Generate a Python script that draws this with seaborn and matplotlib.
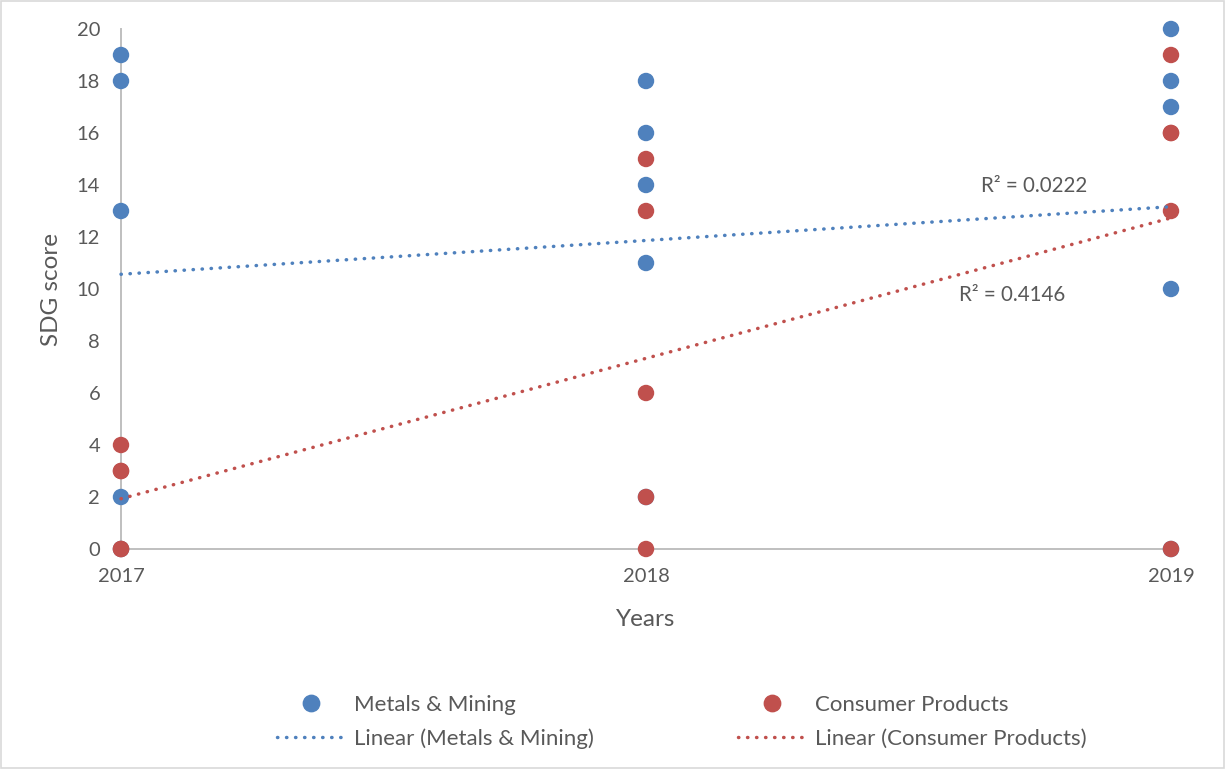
import numpy as np
import pandas as pd
import matplotlib
matplotlib.use("Agg")
import matplotlib.pyplot as plt
from matplotlib.lines import Line2D
from matplotlib.patches import Rectangle
import seaborn as sns

# SDG scores per sector and reporting year
years = [2017, 2018, 2019]
metals_2017 = [19, 18, 13, 2, 0]
metals_2018 = [18, 16, 14, 11, 2]
metals_2019 = [20, 18, 17, 10, 0]
consumer_2017 = [4, 3, 3, 0, 0]
consumer_2018 = [15, 13, 6, 2, 0]
consumer_2019 = [19, 16, 16, 13, 0]
y_ticks = [0, 2, 4, 6, 8, 10, 12, 14, 16, 18, 20]

BLUE = "#4F81BD"
RED = "#C0504D"
TEXT = "#595959"
AXIS = "#BFBFBF"


def long_rows(sector, groups):
    rows = []
    for yr, vals in zip(years, groups):
        rows += [{"Year": yr, "Score": v, "Sector": sector} for v in vals]
    return rows


df = pd.DataFrame(
    long_rows("Metals & Mining", [metals_2017, metals_2018, metals_2019])
    + long_rows("Consumer Products", [consumer_2017, consumer_2018, consumer_2019])
)

sns.set_theme(style="white")
plt.rcParams["font.family"] = ["Lato", "DejaVu Sans"]

fig = plt.figure(figsize=(12.25, 7.69), dpi=100)
ax = fig.add_axes([121 / 1225, 1 - 549 / 769, 1050 / 1225, 520 / 769])

palette = {"Metals & Mining": BLUE, "Consumer Products": RED}
sns.scatterplot(data=df, x="Year", y="Score", hue="Sector", palette=palette,
                s=140, linewidth=0, legend=False, ax=ax, clip_on=False, zorder=3)

dot_style = (0, (0.1, 2.5))
r2_text = {}
for sector, color in palette.items():
    sub = df[df["Sector"] == sector]
    sns.regplot(data=sub, x="Year", y="Score", scatter=False, ci=None, ax=ax,
                line_kws=dict(color=color, lw=2.5, ls=dot_style,
                              dash_capstyle="round", zorder=4, clip_on=False))
    slope, icpt = np.polyfit(sub["Year"], sub["Score"], 1)
    pred = slope * sub["Year"] + icpt
    ss_res = ((sub["Score"] - pred) ** 2).sum()
    ss_tot = ((sub["Score"] - sub["Score"].mean()) ** 2).sum()
    r2_text[sector] = f"R² = {1 - ss_res / ss_tot:.4f}"

ax.text(2018.739, 13.96, r2_text["Metals & Mining"], ha="center", va="center",
        fontsize=14.8, color=TEXT)
ax.text(2018.697, 9.77, r2_text["Consumer Products"], ha="center", va="center",
        fontsize=14.8, color=TEXT)

ax.set_xlim(years[0], years[-1])
ax.set_ylim(0, 20)
ax.set_xticks(years)
ax.set_xticklabels([str(y) for y in years])
ax.set_yticks(y_ticks)
ax.tick_params(axis="both", length=0, labelsize=14.5, labelcolor=TEXT)
ax.tick_params(axis="y", pad=15)
ax.tick_params(axis="x", pad=14)

for side in ["top", "right"]:
    ax.spines[side].set_visible(False)
for side in ["left", "bottom"]:
    ax.spines[side].set_color(AXIS)
    ax.spines[side].set_linewidth(1.4)
ax.grid(False)

ax.set_xlabel("Years", fontsize=17.5, color=TEXT, va="center")
ax.set_ylabel("SDG score", fontsize=17.5, color=TEXT, va="center")
ax.xaxis.set_label_coords(0.5, -(620 - 549) / 520)
ax.yaxis.set_label_coords(-(121 - 52) / 1050, 0.5)

handles = [
    Line2D([], [], marker="o", ls="none", color=BLUE, markersize=11.8),
    Line2D([], [], color=BLUE, lw=2.5, ls=dot_style, dash_capstyle="round"),
    Line2D([], [], marker="o", ls="none", color=RED, markersize=11.8),
    Line2D([], [], color=RED, lw=2.5, ls=dot_style, dash_capstyle="round"),
]
labels = ["Metals & Mining", "Linear (Metals & Mining)",
          "Consumer Products", "Linear (Consumer Products)"]
fig.legend(handles, labels, ncol=2, loc="center",
           bbox_to_anchor=(682 / 1225, 1 - 722 / 769), frameon=False,
           fontsize=16, labelcolor=TEXT, handlelength=3.06,
           handletextpad=0.4, columnspacing=6.5, labelspacing=0.6)

fig.patches.append(Rectangle((0.0008, 0.0013), 0.9984, 0.9974,
                             transform=fig.transFigure, fill=False,
                             edgecolor="#D9D9D9", lw=1.2))

fig.savefig("out.png", dpi=100, facecolor="white")
